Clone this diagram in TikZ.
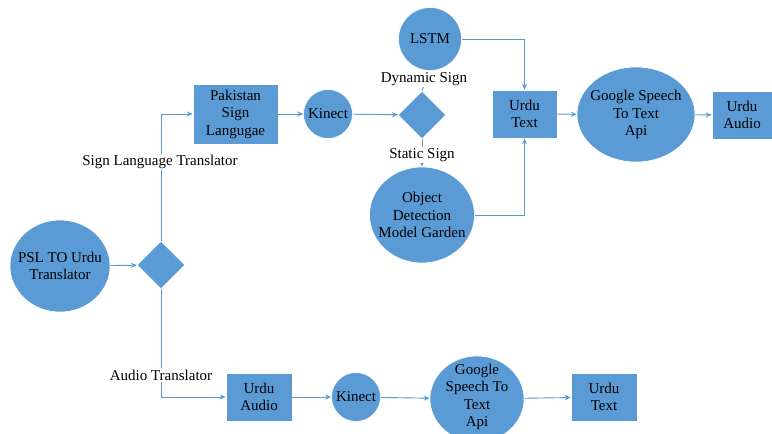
\documentclass[tikz,border=0pt]{standalone}
\usepackage{fontspec}
\setmainfont{Liberation Serif}
\usetikzlibrary{shapes.geometric,arrows.meta}
\definecolor{fblue}{HTML}{5B9BD5}
\begin{document}
\begin{tikzpicture}[x=1pt,y=-1pt,
  every node/.style={font=\fontsize{15}{17.5}\selectfont, align=center, inner sep=0pt, text=black},
  boxn/.style={rectangle, fill=fblue, draw=white, line width=0.6pt},
  circn/.style={circle, fill=fblue, draw=white, line width=0.6pt},
  elln/.style={ellipse, fill=fblue, draw=white, line width=0.6pt},
  diam/.style={diamond, fill=fblue, draw=white, line width=0.6pt, minimum width=48pt, minimum height=48pt, aspect=1},
  conn/.style={draw=fblue, line width=0.9pt},
  arr/.style={conn, -{Stealth[length=6pt,width=5pt]}},
  lbl/.style={fill=white, inner sep=1.5pt}]
\useasboundingbox (0,0) rectangle (772,434);
% nodes
\node[elln, minimum width=100pt, minimum height=92pt] (psl) at (60,266) {};
\node (psl-t) at (psl.center) {PSL TO Urdu\\Translator};
\node[diam] (d1) at (161,265) {};
\node[boxn, minimum width=85pt, minimum height=60pt] (pak) at (235.5,114) {Pakistan\\Sign\\Langugae};
\node[circn, minimum size=49pt] (k1) at (328,114) {Kinect};
\node[diam] (d2) at (422,115) {};
\node[circn, minimum size=63pt] (lstm) at (430,39) {LSTM};
\node[elln, minimum width=105pt, minimum height=96pt] (obj) at (422,215) {};
\node (obj-t) at (obj.center) {Object\\Detection\\Model Garden};
\node[boxn, minimum width=65pt, minimum height=48pt] (ut) at (524.5,114) {Urdu\\Text};
\node[elln, minimum width=118pt, minimum height=95pt] (g1) at (636,114.5) {};
\node (g1-t) at (g1.center) {Google Speech\\To Text\\Api};
\node[boxn, minimum width=60pt, minimum height=48pt] (ua1) at (742,115) {Urdu\\Audio};
% bottom row
\node[boxn, minimum width=66pt, minimum height=48pt] (ua2) at (259,397) {Urdu\\Audio};
\node[circn, minimum size=49pt] (k2) at (356,397) {Kinect};
\node[elln, minimum width=94pt, minimum height=86pt] (g2) at (477,399) {};
\node (g2-t) at (477,397) {Google\\Speech To\\Text\\Api};
\node[boxn, minimum width=66pt, minimum height=48pt] (ut2) at (604,397) {Urdu\\Text};
% connectors
\draw[arr] (psl) -- (d1);
\draw[arr] (d1.north) |- (pak.west);
\draw[arr] (d1.south) |- (ua2.west);
\draw[arr] (pak) -- (k1);
\draw[arr] (k1) -- (d2);
\draw[conn] (d2.north) -- (lstm.south);
\draw[arr] (d2.south) -- (obj.north);
\draw[arr] (lstm.east) -| (ut.north);
\draw[arr] (obj.east) -| (ut.south);
\draw[arr] (ut) -- (g1);
\draw[arr] (g1) -- (ua1);
\draw[arr] (ua2) -- (k2);
\draw[arr] (k2) -- (g2);
\draw[arr] (g2) -- (ut2);
% labels
\node[lbl] (l1) at (160,162) {Sign Language Translator};
\node[lbl] (l2) at (161,375) {Audio Translator};
\node[lbl] (l3) at (424,79) {Dynamic Sign};
\node[lbl] (l4) at (422,155) {Static Sign};
\end{tikzpicture}
\end{document}
